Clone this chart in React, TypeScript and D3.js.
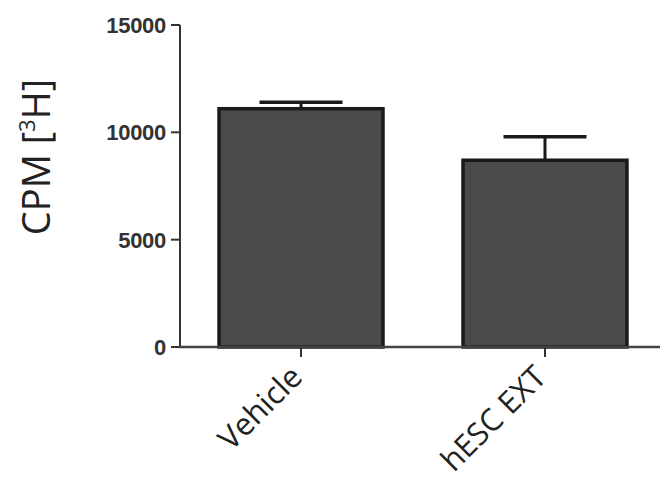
import React from "react";
import * as d3 from "d3";

const width = 660;
const height = 481;

const categories = ["Vehicle", "hESC EXT"];
const means = [11100, 8700];
const errors = [300, 1100];
const yTicks = [0, 5000, 10000, 15000];

const yScale = d3.scaleLinear().domain([0, 15000]).range([347, 25]);
const xScale = d3
  .scaleBand<string>()
  .domain(categories)
  .range([180, 666])
  .paddingInner(0.328)
  .paddingOuter(0.16);

const capWidth = 83;

export default function App() {
  const bw = xScale.bandwidth();
  return (
    <svg
      width={width}
      height={height}
      style={{ position: "absolute", left: 0, top: 0, background: "#fff" }}
    >
      {/* bars */}
      {categories.map((c, i) => {
        const x = xScale(c)!;
        const cx = x + bw / 2;
        const top = yScale(means[i]);
        const errTop = yScale(means[i] + errors[i]);
        return (
          <g key={c}>
            <line x1={cx} x2={cx} y1={top} y2={errTop} stroke="#1a1a1a" strokeWidth={3} />
            <line
              x1={cx - capWidth / 2}
              x2={cx + capWidth / 2}
              y1={errTop}
              y2={errTop}
              stroke="#1a1a1a"
              strokeWidth={3.5}
            />
            <rect
              x={x}
              y={top}
              width={bw}
              height={yScale(0) - top}
              fill="#4a4a4a"
              stroke="#1a1a1a"
              strokeWidth={3.5}
            />
          </g>
        );
      })}

      {/* y axis */}
      <line x1={180} x2={180} y1={yScale(15000)} y2={yScale(0)} stroke="#333" strokeWidth={2} />
      {yTicks.map(t => (
        <g key={t} transform={`translate(180,${yScale(t)})`}>
          <line x1={-9} x2={0} stroke="#333" strokeWidth={2} />
          <text
            x={-14}
            dy="0.36em"
            textAnchor="end"
            fontFamily="Liberation Sans, Arial, sans-serif"
            fontWeight="bold"
            fontSize={22}
            fill="#333"
            letterSpacing={-0.3}
          >
            {t}
          </text>
        </g>
      ))}

      {/* x axis */}
      <line x1={179} x2={660} y1={yScale(0)} y2={yScale(0)} stroke="#444" strokeWidth={2.5} />
      {categories.map(c => {
        const cx = xScale(c)! + bw / 2;
        return (
          <g key={c} transform={`translate(${cx},${yScale(0)})`}>
            <line y1={0} y2={10} stroke="#333" strokeWidth={2} />
            <text
              transform="translate(3,32) rotate(-45)"
              textAnchor="end"
              fontFamily="Open Sans, sans-serif"
              fontSize={31}
              fill="#222"
            >
              {c}
            </text>
          </g>
        );
      })}

      {/* y label */}
      <text
        transform="translate(50,157) rotate(-90)"
        textAnchor="middle"
        fontFamily="Open Sans, sans-serif"
        fontSize={38}
        fill="#222"
      >
        CPM [<tspan baselineShift="super" fontSize={22}>3</tspan>H]
      </text>
    </svg>
  );
}
